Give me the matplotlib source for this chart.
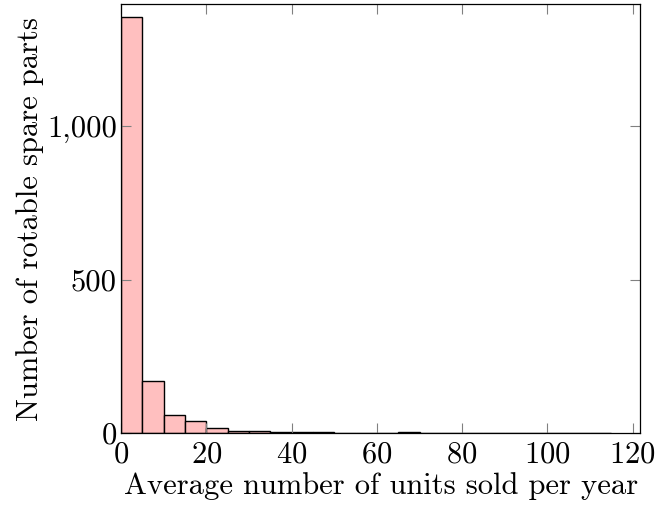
import numpy as np
import matplotlib
matplotlib.use("Agg")
from matplotlib import pyplot as plt
from matplotlib.ticker import FuncFormatter

# histogram of average yearly sales, bins of width 5
bin_edges = list(range(0, 120, 5))
counts = [1355, 171, 59, 38, 16, 7, 7, 4, 3, 2, 1, 1,
          0, 2, 0, 0, 0, 0, 0, 1, 0, 1, 1]
x_ticks = [0, 20, 40, 60, 80, 100, 120]
y_ticks = [0, 500, 1000]

plt.rcParams['font.family'] = 'serif'
plt.rcParams['font.serif'] = ['cmr10']
plt.rcParams['mathtext.fontset'] = 'cm'
plt.rcParams['axes.formatter.use_mathtext'] = True

fig = plt.figure(figsize=(6.65, 5.18), dpi=100)
ax = fig.add_axes([0.182, 0.164, 0.781, 0.828])

lefts = np.array(bin_edges[:-1])
widths = np.diff(bin_edges)
ax.bar(lefts, counts, width=widths, align='edge',
       color='#ffbfbf', edgecolor='black', linewidth=1.0)

ax.set_xlim(0, 121.8)
ax.set_ylim(0, 1397)
ax.set_xticks(x_ticks)
ax.set_yticks(y_ticks)
ax.yaxis.set_major_formatter(FuncFormatter(lambda v, p: f"{int(v):,}"))
ax.tick_params(direction='in', length=7, width=0.8, color='#808080',
               top=True, right=True, labelsize=22, pad=3)
ax.tick_params(axis='x', pad=6)
for s in ax.spines.values():
    s.set_linewidth(0.9)

ax.set_xlabel('Average number of units sold per year', fontsize=22, labelpad=2)
ax.set_ylabel('Number of rotable spare parts', fontsize=22, labelpad=2)

fig.savefig('out.png', dpi=100)
